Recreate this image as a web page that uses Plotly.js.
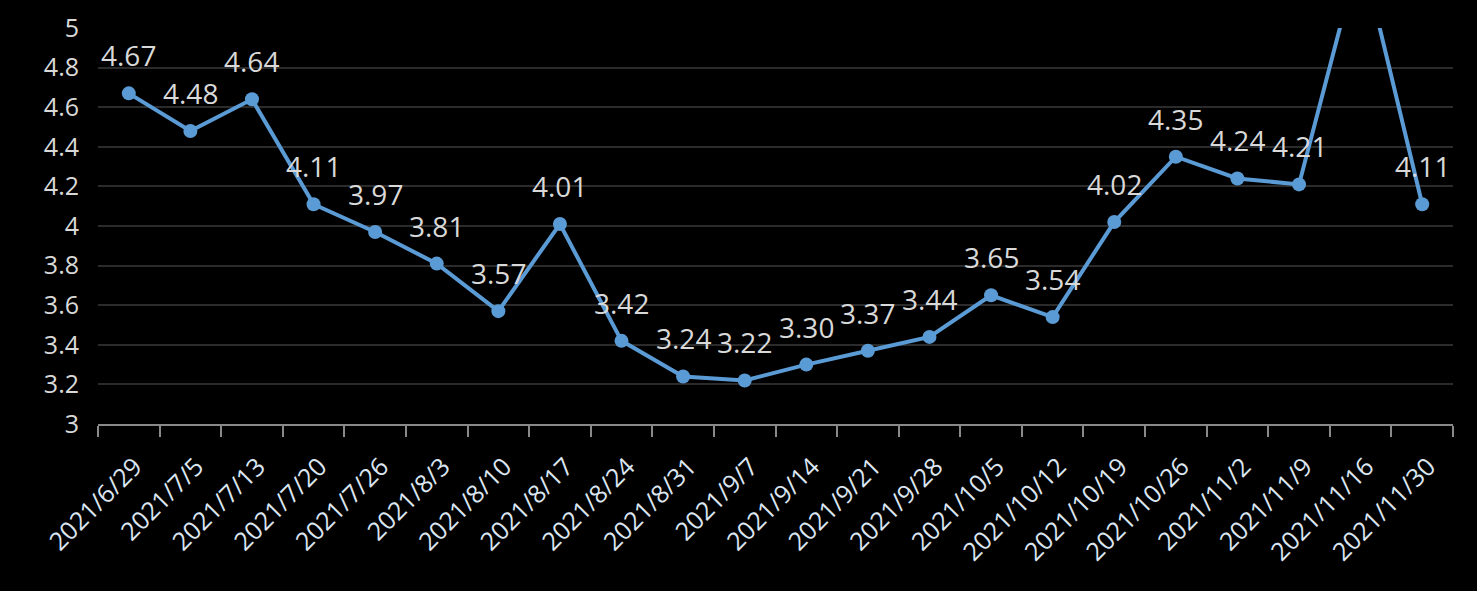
<!DOCTYPE html>
<html>
<head>
<meta charset="utf-8">
<script src="https://cdn.plot.ly/plotly-3.0.1.min.js"></script>
<style>html,body{margin:0;padding:0;background:#000;}</style>
</head>
<body>
<div id="chart" style="width:1477px;height:591px;"></div>
<script>
var dates = ["2021/6/29","2021/7/5","2021/7/13","2021/7/20","2021/7/26","2021/8/3","2021/8/10","2021/8/17","2021/8/24","2021/8/31","2021/9/7","2021/9/14","2021/9/21","2021/9/28","2021/10/5","2021/10/12","2021/10/19","2021/10/26","2021/11/2","2021/11/9","2021/11/16","2021/11/30"];
var values = [4.67,4.48,4.64,4.11,3.97,3.81,3.57,4.01,3.42,3.24,3.22,3.30,3.37,3.44,3.65,3.54,4.02,4.35,4.24,4.21,5.40,4.11];
var yMin = 3, yMax = 5;

var trace = {
  x: dates,
  y: values,
  type: 'scatter',
  mode: 'lines+markers',
  line: {color: '#5b9bd5', width: 4},
  marker: {color: '#5b9bd5', size: 14},
  cliponaxis: true,
  hoverinfo: 'x+y'
};

// data labels (those whose point lies outside the visible range are clipped, as in the reference)
var labels = [];
dates.forEach(function (d, i) {
  if (values[i] <= yMax) {
    labels.push({
      x: d, y: values[i], xref: 'x', yref: 'y',
      text: values[i].toFixed(2),
      showarrow: false, yshift: 38, yanchor: 'middle', xanchor: 'center',
      font: {family: 'Open Sans, sans-serif', size: 28, color: '#d9d9d9'}
    });
  }
});

var layout = {
  width: 1477, height: 591,
  paper_bgcolor: '#000', plot_bgcolor: '#000',
  margin: {l: 98, r: 24, t: 28, b: 167},
  showlegend: false,
  font: {family: 'Open Sans, sans-serif', color: '#d9d9d9'},
  annotations: labels,
  xaxis: {
    type: 'category',
    range: [-0.5, dates.length - 0.5],
    tickson: 'boundaries',
    ticks: 'outside', ticklen: 11, tickwidth: 2, tickcolor: '#898989',
    showline: true, linecolor: '#898989', linewidth: 2,
    showgrid: false, zeroline: false,
    tickangle: -45,
    ticklabelstandoff: 16, ticklabelshift: 6,
    tickfont: {family: 'Open Sans, sans-serif', size: 25, color: '#dce6f2'}
  },
  yaxis: {
    range: [yMin, yMax], dtick: 0.2, tick0: 3,
    showgrid: true, gridcolor: '#2b2b2b', gridwidth: 2,
    zeroline: false, showline: false,
    ticks: '', ticklabelstandoff: 18,
    tickfont: {family: 'Open Sans, sans-serif', size: 25, color: '#d9d9d9'}
  }
};

Plotly.newPlot('chart', [trace], layout, {displayModeBar: false, staticPlot: true});
</script>
</body>
</html>
